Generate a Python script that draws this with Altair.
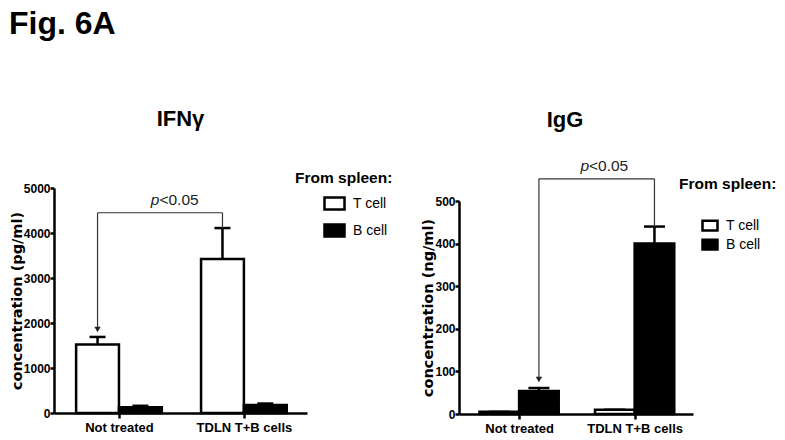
import altair as alt
import pandas as pd

# ---------------- data ----------------
groups = ["Not treated", "TDLN T+B cells"]
cells = ["T cell", "B cell"]

ifn_t = [1520, 3420]
ifn_t_err = [170, 690]
ifn_b = [130, 180]
ifn_b_err = [30, 30]

igg_t = [5, 10]
igg_t_err = [0, 0]
igg_b = [54, 400]
igg_b_err = [7, 40]

ifn_ticks = [0, 1000, 2000, 3000, 4000, 5000]
igg_ticks = [0, 100, 200, 300, 400, 500]

# significance annotations (value coordinates)
ifn_bracket = {"from": (0, "T cell"), "to": (1, "T cell"), "y": 4450, "arrow": 1855,
               "end": 4110, "text_x": 0.324, "text_y": 4733, "label": ("p", "<0.05")}
igg_bracket = {"from": (0, "B cell"), "to": (1, "B cell"), "y": 552, "arrow": 81,
               "end": 440, "text_x": 0.605, "text_y": 582, "label": ("p", "<0.05")}

# ---------------- styling ----------------
BW = 0.343           # bar width in group units
XDOM = [-0.52, 1.505]
SANS = "Liberation Sans, Arial, sans-serif"


def cell_center(gi, cell):
    ci = cells.index(cell)
    return gi - BW + ci * BW + BW / 2


def make_panel(title, t_vals, t_err, b_vals, b_err, ticks, ymax, ytitle,
               width, height, yrange, cap, br, legend_x, legend_y,
               sym_size, sym_path, sym_offset, row_pad, title_pad, title_dx, title_off,
               ytitle_x):
    rows = []
    for cell, vals, errs in (("T cell", t_vals, t_err), ("B cell", b_vals, b_err)):
        for gi, (v, e) in enumerate(zip(vals, errs)):
            ci = cells.index(cell)
            x0 = gi - BW + ci * BW
            xc = x0 + BW / 2
            rows.append(dict(group=groups[gi], cell=cell, x0=x0, x1=x0 + BW,
                             xc=xc, c0=xc - cap, c1=xc + cap,
                             mean=v, top=v + e, base=0))
    df = pd.DataFrame(rows)

    sc_x = alt.Scale(domain=XDOM, nice=False, zero=False)
    sc_kw = dict(domain=[0, ymax], nice=False, zero=True)
    if yrange is not None:
        sc_kw["range"] = yrange
    sc_y = alt.Scale(**sc_kw)

    label_expr = " : ".join(
        [f"datum.value == {i} ? '{g}'" for i, g in enumerate(groups[:-1])] + [f"'{groups[-1]}'"])
    ax_x = alt.Axis(values=list(range(len(groups))), labelExpr=label_expr, title=None,
                    grid=False, domainColor="black", domainWidth=2.5, tickColor="black",
                    tickWidth=2.5, tickSize=5, labelFont=SANS, labelFontSize=13,
                    labelFontWeight="bold", labelColor="black", labelPadding=3)
    ax_y = alt.Axis(values=ticks, format="d", title=ytitle, grid=False, domainColor="black",
                    domainWidth=2.5, tickColor="black", tickWidth=2.5, tickSize=4,
                    labelFont=SANS, labelFontSize=12, labelFontWeight="bold",
                    labelColor="black", labelPadding=0, titleFont="DejaVu Sans",
                    titleFontSize=14.5, titleFontWeight="bold", titleColor="black",
                    titleX=ytitle_x, titleBaseline="bottom")

    def X(f):
        return alt.X(f"{f}:Q", scale=sc_x, axis=ax_x)

    def Y(f):
        return alt.Y(f"{f}:Q", scale=sc_y, axis=ax_y)

    base = alt.Chart(df)
    bars = base.mark_rect(stroke="black", strokeWidth=2.5).encode(
        x=X("x0"), x2="x1", y=Y("mean"), y2="base",
        fill=alt.Fill("cell:N", scale=alt.Scale(domain=cells, range=["white", "black"]),
                      legend=alt.Legend(
                          orient="none", legendX=legend_x, legendY=legend_y,
                          title="From spleen:", titleFont=SANS, titleFontSize=15.5,
                          titleFontWeight="bold", titleColor="black",
                          titlePadding=title_pad, labelFont=SANS, labelFontSize=14,
                          labelColor="black", labelOffset=7,
                          symbolType=sym_path, symbolSize=sym_size,
                          symbolStrokeColor="black", symbolStrokeWidth=2.5,
                          symbolOffset=sym_offset, rowPadding=row_pad)))
    err = base.mark_rule(color="black", strokeWidth=2.5).encode(
        x=X("xc"), y=Y("mean"), y2="top")
    caps = base.mark_rule(color="black", strokeWidth=2.5).encode(
        x=X("c0"), x2="c1", y=Y("top"))

    xa = cell_center(*br["from"])
    xb = cell_center(*br["to"])
    vert = pd.DataFrame([dict(x=xa, y=br["y"], y2=br["arrow"]),
                         dict(x=xb, y=br["y"], y2=br["end"])])
    horiz = pd.DataFrame([dict(x=xa, x2=xb, y=br["y"])])
    arrow = pd.DataFrame([dict(x=xa, y=br["arrow"])])
    ptxt = pd.DataFrame([dict(x=br["text_x"], y=br["text_y"],
                              a=br["label"][0], b=br["label"][1])])

    lc = "#333333"
    v_rules = alt.Chart(vert).mark_rule(color=lc, strokeWidth=1.2).encode(
        x=X("x"), y=Y("y"), y2="y2")
    h_rules = alt.Chart(horiz).mark_rule(color=lc, strokeWidth=1.2).encode(
        x=X("x"), x2="x2", y=Y("y"))
    arr = alt.Chart(arrow).mark_point(shape="triangle-down", filled=True, size=40,
                                      color="#222222", opacity=1).encode(
        x=X("x"), y=Y("y"))
    t1 = alt.Chart(ptxt).mark_text(align="right", baseline="middle", font=SANS,
                                   fontSize=15.5, fontStyle="italic",
                                   color="#222222").encode(x=X("x"), y=Y("y"), text="a:N")
    t2 = alt.Chart(ptxt).mark_text(align="left", baseline="middle", font=SANS,
                                   fontSize=15.5, color="#222222").encode(
        x=X("x"), y=Y("y"), text="b:N")

    return alt.layer(bars, err, caps, v_rules, h_rules, arr, t1, t2).properties(
        width=width, height=height,
        title=alt.TitleParams(title, frame="group", offset=title_off, dx=title_dx,
                              font=SANS, fontSize=22, fontWeight="bold",
                              color="black", anchor="middle"))


left = make_panel("IFNγ", ifn_t, ifn_t_err, ifn_b, ifn_b_err, ifn_ticks, 5000,
                  "concentration (pg/ml)", 253, 225, None, 0.064, ifn_bracket,
                  241, -17, 400, "M-1,-0.6H1V0.6H-1Z", 28, 4, 5.5, 0, 40, -30)
right = make_panel("IgG", igg_t, igg_t_err, igg_b, igg_b_err, igg_ticks, 500,
                   "concentration (ng/ml)", 234, 226, [226, 13], 0.091, igg_bracket,
                   220, -11, 225, "M-1,-0.65H1V0.65H-1Z", 22, -4, 24, -11, 27, -24)

chart = alt.hconcat(left, right, spacing=152, bounds="flush").resolve_scale(
    x="independent", y="independent", fill="independent"
).resolve_legend(fill="independent").properties(
    title=alt.TitleParams("Fig. 6A", anchor="start", font=SANS, fontSize=32,
                          fontWeight="bold", color="black", offset=67,
                          frame="bounds"),
    padding=0,
).configure_view(strokeWidth=0)

chart.save("out.html", embed_options={"renderer": "svg", "actions": False})
